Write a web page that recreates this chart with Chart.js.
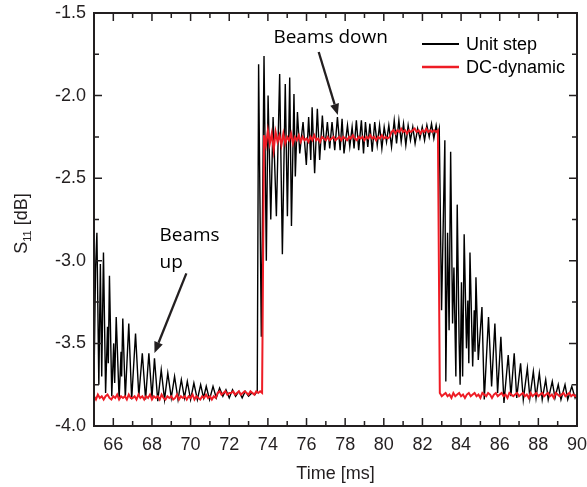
<!DOCTYPE html>
<html><head><meta charset="utf-8">
<script src="https://cdn.jsdelivr.net/npm/chart.js@4"></script>
<style>html,body{margin:0;padding:0;background:#fff}#wrap{width:587px;height:487px;position:relative}</style>
</head><body><div id="wrap"><canvas id="c" width="587" height="487"></canvas></div>
<script>
// ---------- data ----------
const xMajorTicks = [66,68,70,72,74,76,78,80,82,84,86,88,90];
const xMinorTicks = [65,67,69,71,73,75,77,79,81,83,85,87,89];
const yMajorTicks = [-1.5,-2.0,-2.5,-3.0,-3.5,-4.0];
const yMinorTicks = [-1.75,-2.25,-2.75,-3.25,-3.75];

const unitStepTime = [
65.00,65.08,65.15,65.25,65.33,65.40,65.49,65.60,65.70,65.74,65.80,65.92,66.02,66.07,66.15,66.30,66.40,66.43,66.49,66.62,
66.80,66.95,67.15,67.32,67.50,67.67,67.84,68.00,68.13,68.30,68.48,68.65,68.82,69.00,69.17,69.35,69.52,69.68,69.83,70.00,
70.17,70.35,70.52,70.67,70.81,70.98,71.16,71.33,71.50,71.67,71.83,72.00,72.17,72.33,72.50,72.67,72.83,73.00,73.17,73.33,
73.45,73.52,73.66,73.80,73.92,74.01,74.15,74.27,74.44,74.61,74.75,74.90,75.01,75.13,75.22,75.35,75.42,75.53,75.65,75.82,
75.99,76.11,76.22,76.29,76.42,76.56,76.68,76.82,76.94,77.08,77.20,77.32,77.46,77.60,77.74,77.84,77.94,78.12,78.24,78.36,
78.46,78.58,78.70,78.84,78.95,79.05,79.17,79.28,79.40,79.53,79.66,79.78,79.90,80.02,80.14,80.26,80.40,80.54,80.66,80.78,
80.90,81.02,81.14,81.26,81.38,81.50,81.62,81.75,81.87,81.99,82.11,82.23,82.35,82.47,82.59,82.71,82.80,82.87,82.99,83.16,
83.21,83.30,83.38,83.46,83.56,83.63,83.73,83.80,83.90,83.95,84.02,84.08,84.16,84.28,84.35,84.40,84.46,84.60,84.68,84.72,
84.77,84.89,85.08,85.20,85.42,85.58,85.75,85.89,86.06,86.22,86.44,86.58,86.75,86.88,87.08,87.22,87.43,87.56,87.74,87.88,
88.05,88.20,88.38,88.51,88.72,88.86,89.03,89.17,89.38,89.52,89.73,89.90,90.00];
const unitStepDb = [
-3.72,-3.05,-2.83,-3.75,-3.02,-3.70,-2.95,-3.80,-3.40,-3.62,-3.09,-3.82,-3.50,-3.74,-3.34,-3.84,-3.55,-3.70,-3.35,-3.83,
-3.38,-3.84,-3.44,-3.82,-3.56,-3.84,-3.56,-3.83,-3.59,-3.85,-3.66,-3.84,-3.68,-3.83,-3.70,-3.84,-3.72,-3.83,-3.73,-3.84,
-3.74,-3.84,-3.75,-3.83,-3.76,-3.84,-3.76,-3.83,-3.77,-3.82,-3.78,-3.83,-3.78,-3.82,-3.79,-3.83,-3.79,-3.82,-3.80,-3.81,
-3.79,-1.81,-3.46,-1.76,-3.00,-2.00,-2.75,-2.13,-2.73,-1.87,-2.96,-1.93,-2.73,-1.89,-2.79,-1.99,-2.49,-2.10,-2.35,-2.16,
-2.42,-2.13,-2.39,-2.07,-2.47,-2.08,-2.39,-2.12,-2.33,-2.16,-2.32,-2.16,-2.33,-2.13,-2.33,-2.14,-2.35,-2.18,-2.31,-2.19,
-2.32,-2.15,-2.33,-2.15,-2.35,-2.16,-2.31,-2.17,-2.34,-2.16,-2.30,-2.18,-2.32,-2.19,-2.28,-2.18,-2.31,-2.15,-2.29,-2.15,
-2.28,-2.17,-2.30,-2.18,-2.27,-2.19,-2.29,-2.20,-2.26,-2.19,-2.27,-2.18,-2.25,-2.17,-2.26,-2.18,-2.24,-2.20,-3.30,-2.27,
-3.73,-2.83,-3.42,-2.34,-3.38,-3.04,-3.70,-2.66,-3.50,-3.75,-3.13,-3.70,-2.84,-3.53,-3.24,-3.62,-2.95,-3.64,-3.30,-3.55,
-3.10,-3.60,-3.28,-3.84,-3.34,-3.76,-3.38,-3.80,-3.46,-3.86,-3.57,-3.82,-3.56,-3.83,-3.62,-3.84,-3.65,-3.83,-3.67,-3.83,
-3.68,-3.84,-3.72,-3.84,-3.73,-3.83,-3.75,-3.84,-3.75,-3.84,-3.76,-3.83,-3.80];

// DC-dynamic: sampled every 0.1 ms from 65.0 ms
const dcDynStart = 65.0, dcDynStep = 0.1;
const dcDynDb = [
-3.82,-3.84,-3.81,-3.83,-3.82,-3.84,-3.82,-3.81,-3.83,-3.84,
-3.82,-3.83,-3.81,-3.84,-3.82,-3.83,-3.82,-3.84,-3.81,-3.83,
-3.83,-3.82,-3.84,-3.81,-3.83,-3.82,-3.84,-3.82,-3.83,-3.81,
-3.84,-3.82,-3.83,-3.82,-3.84,-3.81,-3.83,-3.84,-3.82,-3.83,
-3.82,-3.84,-3.83,-3.81,-3.84,-3.82,-3.83,-3.82,-3.84,-3.82,
-3.83,-3.81,-3.84,-3.82,-3.83,-3.84,-3.82,-3.83,-3.81,-3.83,
-3.82,-3.84,-3.82,-3.83,
-3.80,-3.79,-3.81,-3.80,-3.79,-3.81,-3.80,-3.80,-3.79,-3.81,-3.80,-3.79,-3.81,-3.80,-3.79,-3.80,-3.81,-3.79,-3.80,-3.81,-3.79,-3.80,-3.79,-3.80,
-2.24,-2.30,-2.21,-2.29,-2.23,-2.33,-2.22,-2.28,-2.24,-2.30,
-2.23,-2.29,-2.25,-2.27,-2.23,-2.29,-2.25,-2.27,-2.24,-2.28,
-2.25,-2.27,-2.26,-2.28,-2.25,-2.27,-2.24,-2.27,-2.26,-2.28,
-2.25,-2.26,-2.27,-2.25,-2.27,-2.26,-2.25,-2.27,-2.26,-2.25,
-2.27,-2.25,-2.26,-2.27,-2.25,-2.26,-2.24,-2.26,-2.27,-2.25,
-2.26,-2.25,-2.27,-2.25,-2.26,-2.24,-2.26,-2.25,-2.27,-2.25,
-2.26,-2.24,-2.26,-2.25,-2.26,-2.25,
-2.22,-2.21,-2.23,-2.21,-2.22,-2.20,-2.22,-2.21,-2.23,-2.21,
-2.22,-2.21,-2.20,-2.22,-2.21,-2.23,-2.21,-2.22,-2.20,-2.22,
-2.21,-2.22,-2.21,-2.22,-2.21,
-3.80,-3.82,-3.81,-3.80,-3.82,-3.81,-3.83,-3.80,-3.82,-3.81,
-3.80,-3.82,-3.81,-3.83,-3.81,-3.80,-3.82,-3.81,-3.80,-3.82,
-3.81,-3.83,-3.80,-3.81,-3.82,-3.80,-3.81,-3.83,-3.81,-3.80,
-3.82,-3.81,-3.80,-3.82,-3.81,-3.83,-3.80,-3.81,-3.82,-3.81,
-3.80,-3.82,-3.81,-3.80,-3.82,-3.81,-3.83,-3.80,-3.82,-3.81,
-3.80,-3.82,-3.81,-3.80,-3.82,-3.81,-3.80,-3.82,-3.81,-3.83,
-3.80,-3.81,-3.82,-3.81,-3.80,-3.82,-3.81,-3.80,-3.82,-3.81,
-3.82,-3.81];

const seriesNames = ['Unit step','DC-dynamic'];
const annotationTexts = ['Beams down','Beams','up'];
// annotation anchors in data units [time, dB]
const beamsDownText = [77.25, -1.651];
const beamsDownArrow = [[76.63,-1.736],[77.62,-2.117]];
const beamsUpText = [68.39, -2.85, -3.013];
const beamsUpArrow = [[69.78,-3.076],[68.13,-3.558]];

// ---------- chart ----------
const unitStepPts = unitStepTime.map((t,i)=>({x:t,y:unitStepDb[i]}));
const dcDynPts = dcDynDb.map((v,i)=>({x:+(dcDynStart+i*dcDynStep).toFixed(2),y:v}));
const INK = '#231f20';
const RED = '#ee1c25';
const FONT = "'Liberation Sans', Arial, sans-serif";

function arrow(ctx, x1,y1,x2,y2){
  const ang = Math.atan2(y2-y1,x2-x1), L=11, W=4.5;
  const bx = x2 - L*Math.cos(ang), by = y2 - L*Math.sin(ang);
  ctx.beginPath(); ctx.moveTo(x1,y1); ctx.lineTo(bx,by); ctx.stroke();
  ctx.beginPath();
  ctx.moveTo(x2,y2);
  ctx.lineTo(bx + W*Math.sin(ang), by - W*Math.cos(ang));
  ctx.lineTo(bx - W*Math.sin(ang), by + W*Math.cos(ang));
  ctx.closePath(); ctx.fill();
}

const decor = {
  id:'decor',
  afterDraw(chart){
    const {ctx, chartArea:a, scales:{x,y}} = chart;
    ctx.save();
    ctx.strokeStyle = INK; ctx.fillStyle = INK;
    ctx.lineWidth = 2;
    ctx.strokeRect(a.left, a.top, a.right-a.left, a.bottom-a.top);
    ctx.lineWidth = 1.5;
    ctx.beginPath();
    const xt = (v,len)=>{const p=x.getPixelForValue(v); ctx.moveTo(p,a.bottom); ctx.lineTo(p,a.bottom-len); ctx.moveTo(p,a.top); ctx.lineTo(p,a.top+len);};
    const yt = (v,len)=>{const p=y.getPixelForValue(v); ctx.moveTo(a.left,p); ctx.lineTo(a.left+len,p); ctx.moveTo(a.right,p); ctx.lineTo(a.right-len,p);};
    xMajorTicks.forEach(v=>xt(v,8)); xMinorTicks.forEach(v=>xt(v,5));
    yMajorTicks.forEach(v=>yt(v,8)); yMinorTicks.forEach(v=>yt(v,5));
    ctx.stroke();

    // y title with subscript
    ctx.save();
    ctx.translate(22, (a.top+a.bottom)/2 + 4);
    ctx.rotate(-Math.PI/2);
    ctx.textBaseline = 'middle';
    const big = '18px '+FONT, small = '11px '+FONT;
    ctx.font = big; const wS = ctx.measureText('S').width; const wB = ctx.measureText(' [dB]').width;
    ctx.font = small; const w11 = ctx.measureText('11').width;
    let sx = -(wS+w11+wB)/2;
    ctx.font = big; ctx.fillText('S', sx, 0); sx += wS;
    ctx.font = small; ctx.fillText('11', sx, 6); sx += w11;
    ctx.font = big; ctx.fillText(' [dB]', sx, 0);
    ctx.restore();

    // legend
    const lx = a.right - 155;
    ctx.lineWidth = 2; ctx.strokeStyle = '#000';
    ctx.beginPath(); ctx.moveTo(lx, a.top+31); ctx.lineTo(lx+37, a.top+31); ctx.stroke();
    ctx.strokeStyle = RED; ctx.lineWidth = 2.5;
    ctx.beginPath(); ctx.moveTo(lx, a.top+54); ctx.lineTo(lx+37, a.top+54); ctx.stroke();
    ctx.fillStyle = '#000'; ctx.font = '18px '+FONT; ctx.textBaseline='middle'; ctx.textAlign='left';
    ctx.fillText(seriesNames[0], lx+44, a.top+32);
    ctx.fillText(seriesNames[1], lx+44, a.top+55);

    // annotations
    ctx.font = "19px 'Open Sans', sans-serif";
    ctx.textAlign = 'center';
    ctx.fillText(annotationTexts[0], x.getPixelForValue(beamsDownText[0]), y.getPixelForValue(beamsDownText[1]));
    ctx.textAlign = 'left';
    ctx.fillText(annotationTexts[1], x.getPixelForValue(beamsUpText[0]), y.getPixelForValue(beamsUpText[1]));
    ctx.fillText(annotationTexts[2], x.getPixelForValue(beamsUpText[0]), y.getPixelForValue(beamsUpText[2]));
    ctx.strokeStyle = '#231f20'; ctx.fillStyle = '#231f20'; ctx.lineWidth = 2.3;
    arrow(ctx, x.getPixelForValue(beamsDownArrow[0][0]), y.getPixelForValue(beamsDownArrow[0][1]),
               x.getPixelForValue(beamsDownArrow[1][0]), y.getPixelForValue(beamsDownArrow[1][1]));
    arrow(ctx, x.getPixelForValue(beamsUpArrow[0][0]), y.getPixelForValue(beamsUpArrow[0][1]),
               x.getPixelForValue(beamsUpArrow[1][0]), y.getPixelForValue(beamsUpArrow[1][1]));
    ctx.restore();
  }
};

new Chart(document.getElementById('c'), {
  type:'line',
  data:{datasets:[
    {label:seriesNames[1], data:dcDynPts, borderColor:RED, borderWidth:2, pointRadius:0, tension:0, order:0},
    {label:seriesNames[0], data:unitStepPts, borderColor:'#000', borderWidth:1.4, pointRadius:0, tension:0, order:1}
  ]},
  options:{
    responsive:false, animation:false, devicePixelRatio:1,
    layout:{padding:{top:13,right:10,left:0,bottom:0}},
    plugins:{legend:{display:false}, tooltip:{enabled:false}},
    scales:{
      x:{type:'linear', min:65, max:90,
        afterBuildTicks:s=>{s.ticks = xMajorTicks.map(v=>({value:v}));},
        afterFit:s=>{s.height = 61; s.paddingLeft = 0; s.paddingRight = 0;},
        grid:{display:false, drawTicks:false}, border:{display:false},
        ticks:{color:INK, font:{family:FONT, size:18}, padding:8, maxRotation:0, autoSkip:false, callback:v=>String(v)},
        title:{display:true, text:'Time [ms]', color:INK, font:{family:FONT, size:18}, padding:{top:0,bottom:2}}
      },
      y:{type:'linear', min:-4.0, max:-1.5,
        afterBuildTicks:s=>{s.ticks = yMajorTicks.map(v=>({value:v}));},
        afterFit:s=>{s.width = 94; s.paddingTop = 0; s.paddingBottom = 0;},
        grid:{display:false, drawTicks:false}, border:{display:false},
        ticks:{color:INK, font:{family:FONT, size:18}, padding:8, autoSkip:false, callback:v=>Number(v).toFixed(1)}
      }
    }
  },
  plugins:[decor]
});
</script></body></html>
